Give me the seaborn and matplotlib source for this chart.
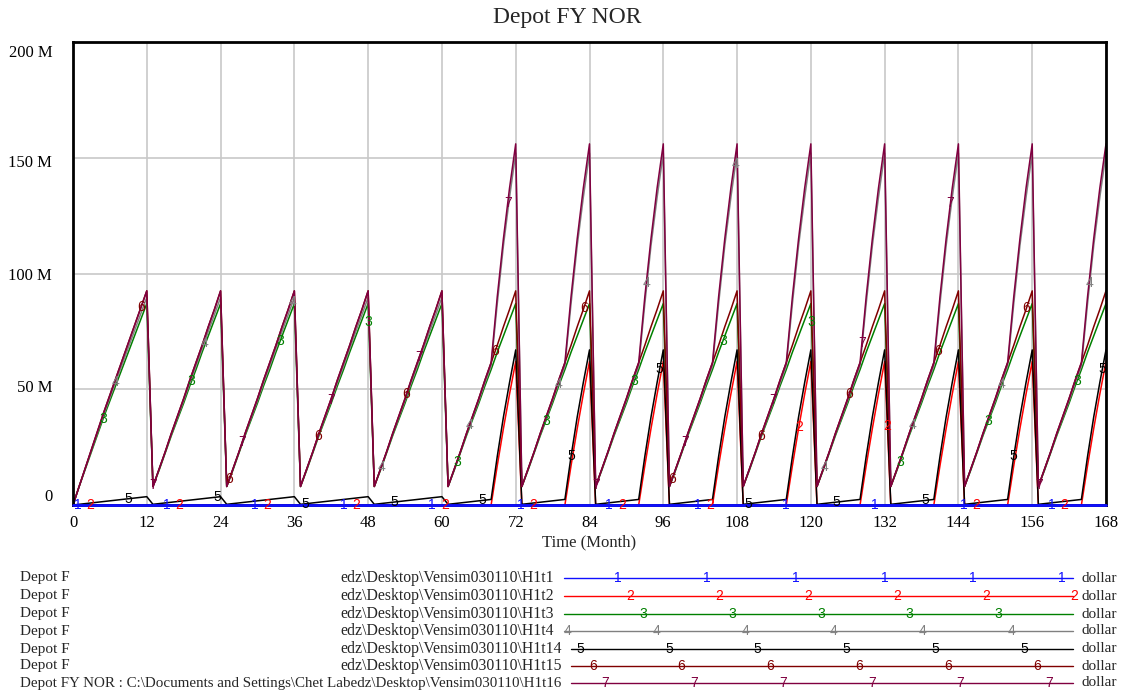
import numpy as np
import pandas as pd
import seaborn as sns
import matplotlib.pyplot as plt
from matplotlib.patches import Rectangle
from matplotlib.transforms import ScaledTranslation

sns.set_theme(style="white")
plt.rcParams['font.family'] = ['Liberation Serif', 'DejaVu Serif']

# values in million dollars, one point per month (0..168)
# each run repeats a 12 month pattern: first year (month 0..12),
# years 2-5 (month 1..12 of the year) and years 6-14 (month 1..12)
h1t1_first = [0] * 13
h1t1_early = [0] * 12
h1t1_late = [0] * 12

h1t2_first = [0] * 13
h1t2_early = [0] * 12
h1t2_late = [0, 0, 0, 0, 0, 0, 0, 0, 17, 33, 48, 62]

h1t3_first = [0, 8, 15.5, 23, 30.5, 38, 45, 52, 59, 66, 73, 80, 87]
h1t3_early = [8, 15, 22.5, 30, 37, 44, 51.5, 58.5, 66, 73, 80, 87]
h1t3_late = [8, 15, 22.5, 30, 37, 44, 51.5, 58.5, 66, 73, 80, 87]

h1t4_first = [0, 8, 15.8, 23.5, 31.2, 39, 46.2, 53.5, 60.8, 68, 75.2, 82.5, 89.7]
h1t4_early = [8, 15.3, 22.8, 30.5, 37.8, 45, 52.7, 60, 67.5, 75, 82.2, 89.7]
h1t4_late = [8, 15.3, 22.8, 30.5, 37.8, 45, 52.7, 60, 87, 112, 133, 152]

h1t14_first = [0, 0.3, 0.6, 0.9, 1.2, 1.5, 1.8, 2.1, 2.4, 2.7, 3.0, 3.3, 3.6]
h1t14_early = [0.3, 0.6, 0.9, 1.2, 1.5, 1.8, 2.1, 2.4, 2.7, 3.0, 3.3, 3.6]
h1t14_late = [0.3, 0.6, 0.9, 1.2, 1.5, 1.8, 2.1, 2.4, 21, 38, 53, 67]

h1t15_first = [0, 8, 16, 24, 32, 40, 47.5, 55, 62.5, 70, 77.5, 85, 92.5]
h1t15_early = [8, 15.5, 23, 31, 38.5, 46, 54, 61.5, 69, 77, 84.5, 92.5]
h1t15_late = [8, 15.5, 23, 31, 38.5, 46, 54, 61.5, 69, 77, 84.5, 92.5]

h1t16_first = [0, 8, 16, 24, 32, 40, 47.5, 55, 62.5, 70, 77.5, 85, 92.5]
h1t16_early = [8, 15.5, 23, 31, 38.5, 46, 54, 61.5, 69, 77, 84.5, 92.5]
h1t16_late = [8, 15.5, 23, 31, 38.5, 46, 54, 61.5, 90, 115, 137, 156]

runs = ["H1t1", "H1t2", "H1t3", "H1t4", "H1t14", "H1t15", "H1t16"]
colors = ["#1010ff", "#ff0000", "#008000", "#808080", "#000000", "#800000", "#800040"]
parts = [
    (h1t1_first, h1t1_early, h1t1_late),
    (h1t2_first, h1t2_early, h1t2_late),
    (h1t3_first, h1t3_early, h1t3_late),
    (h1t4_first, h1t4_early, h1t4_late),
    (h1t14_first, h1t14_early, h1t14_late),
    (h1t15_first, h1t15_early, h1t15_late),
    (h1t16_first, h1t16_early, h1t16_late),
]

months = np.arange(0, 169)
frames = []
for run, (first, early, late) in zip(runs, parts):
    vals = list(first) + list(early) * 4 + list(late) * 9
    frames.append(pd.DataFrame({"month": months, "value": vals, "run": run}))
df = pd.concat(frames, ignore_index=True)

W, H = 1122, 693
fig = plt.figure(figsize=(W / 100, H / 100), dpi=100)
L, R, T, B = 73, 1106, 42, 505
ax = fig.add_axes([L / W, 1 - B / H, (R - L) / W, (B - T) / H])

for i, (run, col) in enumerate(zip(runs, colors)):
    d = df[df["run"] == run]
    sns.lineplot(data=d, x="month", y="value", color=col, lw=1.1,
                 estimator=None, ax=ax, legend=False)
    line = ax.lines[-1]
    if i == 0:
        line.set_zorder(3)
        line.set_linewidth(2)
        line.set_clip_on(False)
    # series numbers along the line
    m = 0.8 + 2.05 * i
    while m <= 168:
        y = np.interp(m, d["month"], d["value"])
        ax.text(m, y, str(i + 1), color=col, ha="center", va="center",
                fontsize=10, family="Liberation Sans", clip_on=False, zorder=4)
        m += 14.4

ax.set_xlim(0, 168)
ax.set_ylim(0, 200)
ax.set_xticks(range(0, 169, 12))
ax.set_yticks([0, 50, 100, 150, 200])
ax.set_yticklabels(["0", "50 M", "100 M", "150 M", "200 M"])
ax.tick_params(axis="both", length=0, labelsize=12, colors="black")
ax.tick_params(axis="y", pad=15)
ax.tick_params(axis="x", pad=7)
ylabs = ax.get_yticklabels()
ylabs[0].set_va("bottom")
ylabs[-1].set_va("top")
for lab, dy in zip(ylabs, [0, 3, 0, -3, -3]):
    lab.set_transform(lab.get_transform() + ScaledTranslation(0, dy / 100, fig.dpi_scale_trans))
ax.set_xlabel("")
ax.set_ylabel("")
ax.grid(True, color="#c8c8c8", lw=1.2)
ax.set_axisbelow(True)
for s in ax.spines.values():
    s.set_color("black")
    s.set_linewidth(2)

fig.text(567 / W, 1 - 18 / H, "Depot FY NOR", ha="center", va="center", fontsize=17)
fig.text(589 / W, 1 - 542 / H, "Time (Month)", ha="center", va="center", fontsize=12)

# legend block below the plot, laid out in pixel units
lax = fig.add_axes([0, 0, 1, 1])
lax.set_xlim(0, W)
lax.set_ylim(H, 0)
lax.axis("off")
row_y = [578, 596, 614, 631, 649, 666, 683]
prefix = "Depot FY NOR : C:\\Documents and Settings\\Chet Lab"
clip = Rectangle((0, 560), 70, 140, transform=lax.transData)
for i, (run, col) in enumerate(zip(runs, colors)):
    y = row_y[i]
    if i < 6:
        t = lax.text(20, y, prefix, ha="left", va="center", fontsize=11, clip_on=True)
        t.set_clip_path(clip)
        lax.text(340, y, "edz\\Desktop\\Vensim030110\\" + run, ha="left", va="center", fontsize=11.3)
    else:
        lax.text(20, y, prefix + "edz\\Desktop\\Vensim030110\\" + run,
                 ha="left", va="center", fontsize=10.85)
    x0 = 564 if i < 4 else 571
    lax.plot([x0, 1073], [y, y], color=col, lw=1)
    p = 567.6 + 12.6 * ((i - 3) % 7)
    while p <= 1075:
        lax.text(p, y, str(i + 1), color=col, ha="center", va="center",
                 fontsize=10, family="Liberation Sans")
        p += 88.8
    lax.text(1117, y, "dollar", ha="right", va="center", fontsize=11)

fig.savefig("out.png", dpi=100)
